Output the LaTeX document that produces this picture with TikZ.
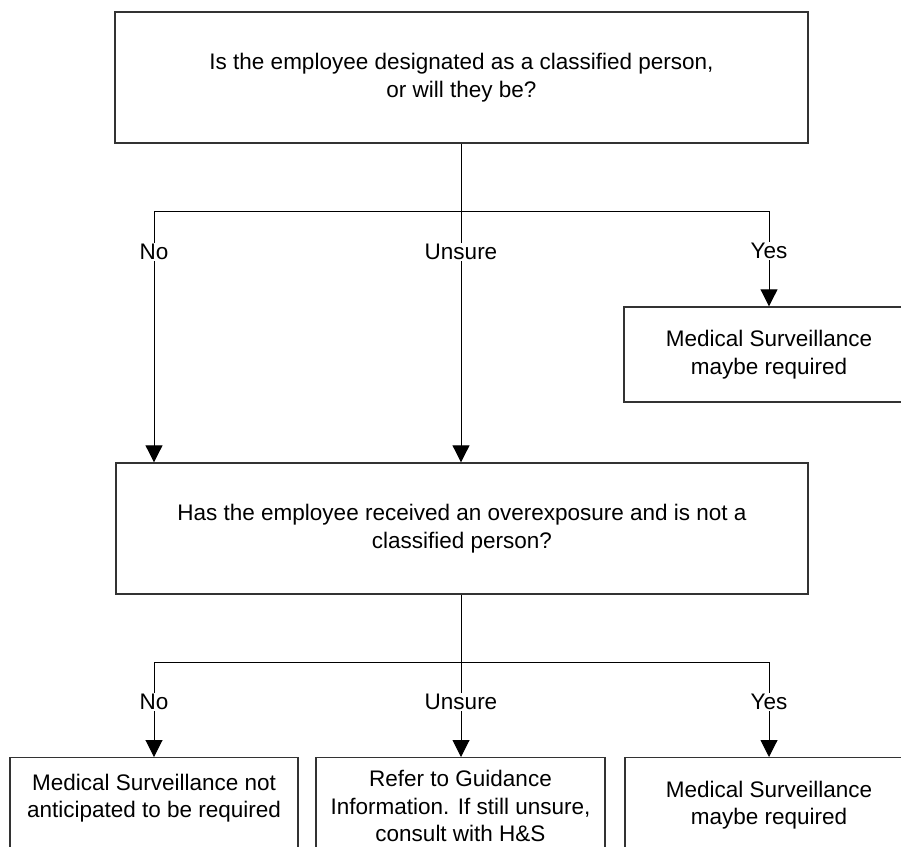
\documentclass[tikz,border=0pt]{standalone}
\usepackage{fontspec}
\setmainfont{Liberation Sans}
\usetikzlibrary{arrows.meta}
\begin{document}
\begin{tikzpicture}[x=1pt,y=-1pt,
  every node/.style={font=\fontsize{22.5}{27.5}\selectfont},
  box/.style={draw=black!80, line width=1.4pt, rectangle, inner sep=0pt, align=center},
  txt/.style={align=center, inner sep=0pt},
  lbl/.style={fill=white, inner sep=1pt},
  link/.style={draw=black, line width=1pt},
  arr/.style={link, -{Triangle[length=17pt,width=17pt]}}]
\useasboundingbox (0,0) rectangle (901,846);
\clip (0,0) rectangle (901,846);
\fill[white] (0,0) rectangle (901,846);

% question boxes
\node[box, minimum width=693pt, minimum height=131pt] (q1) at (461.5,77.5)
  {Is the employee designated as a classified person,\\or will they be?};
\node[box, minimum width=692pt, minimum height=131pt] (q2) at (462,528.5)
  {Has the employee received an overexposure and is not a\\classified person?};

% outcome of the first question
\node[box, minimum width=290pt, minimum height=95pt] (y1) at (769,354.5)
  {Medical Surveillance\\maybe required};

% outcomes of the second question (boxes run past the lower edge)
\node[box, minimum width=288pt, minimum height=120pt, anchor=north] (o1) at (154,757) {};
\node[box, minimum width=289pt, minimum height=120pt, anchor=north] (o2) at (460.5,757) {};
\node[box, minimum width=288pt, minimum height=120pt, anchor=north] (o3) at (769,757) {};
\node[txt] (o1t) at (154,798) {Medical Surveillance not\\anticipated to be required};
\node[txt] (o2t) at (460.5,806) {Refer to Guidance\\Information. If still unsure,\\consult with H\&S};
\node[txt] (o3t) at (769,805) {Medical Surveillance\\maybe required};

% branch points
\coordinate (j1)  at (461,211);
\coordinate (j1l) at (154,211);
\coordinate (j1r) at (769,211);
\coordinate (j2)  at (461,662);
\coordinate (j2l) at (154,662);
\coordinate (j2r) at (769,662);

% branch labels
\node[lbl] (n1) at (154,252) {No};
\node[lbl] (u1) at (461,252) {Unsure};
\node[lbl] (s1) at (769,251) {Yes};
\node[lbl] (n2) at (154,702) {No};
\node[lbl] (u2) at (461,702) {Unsure};
\node[lbl] (s2) at (769,702) {Yes};

% connectors from the first question
\draw[link] (q1.south -| j1) -- (j1);
\draw[link] (j1l) -- (j1r);
\draw[link] (j1l) -- (n1);
\draw[arr] (n1) -- (q2.north -| n1);
\draw[link] (j1) -- (u1);
\draw[arr] (u1) -- (q2.north -| u1);
\draw[link] (j1r) -- (s1);
\draw[arr] (s1) -- (y1.north -| s1);

% connectors from the second question
\draw[link] (q2.south -| j2) -- (j2);
\draw[link] (j2l) -- (j2r);
\draw[link] (j2l) -- (n2);
\draw[arr] (n2) -- (o1.north -| n2);
\draw[link] (j2) -- (u2);
\draw[arr] (u2) -- (o2.north -| u2);
\draw[link] (j2r) -- (s2);
\draw[arr] (s2) -- (o3.north -| s2);
\end{tikzpicture}
\end{document}
